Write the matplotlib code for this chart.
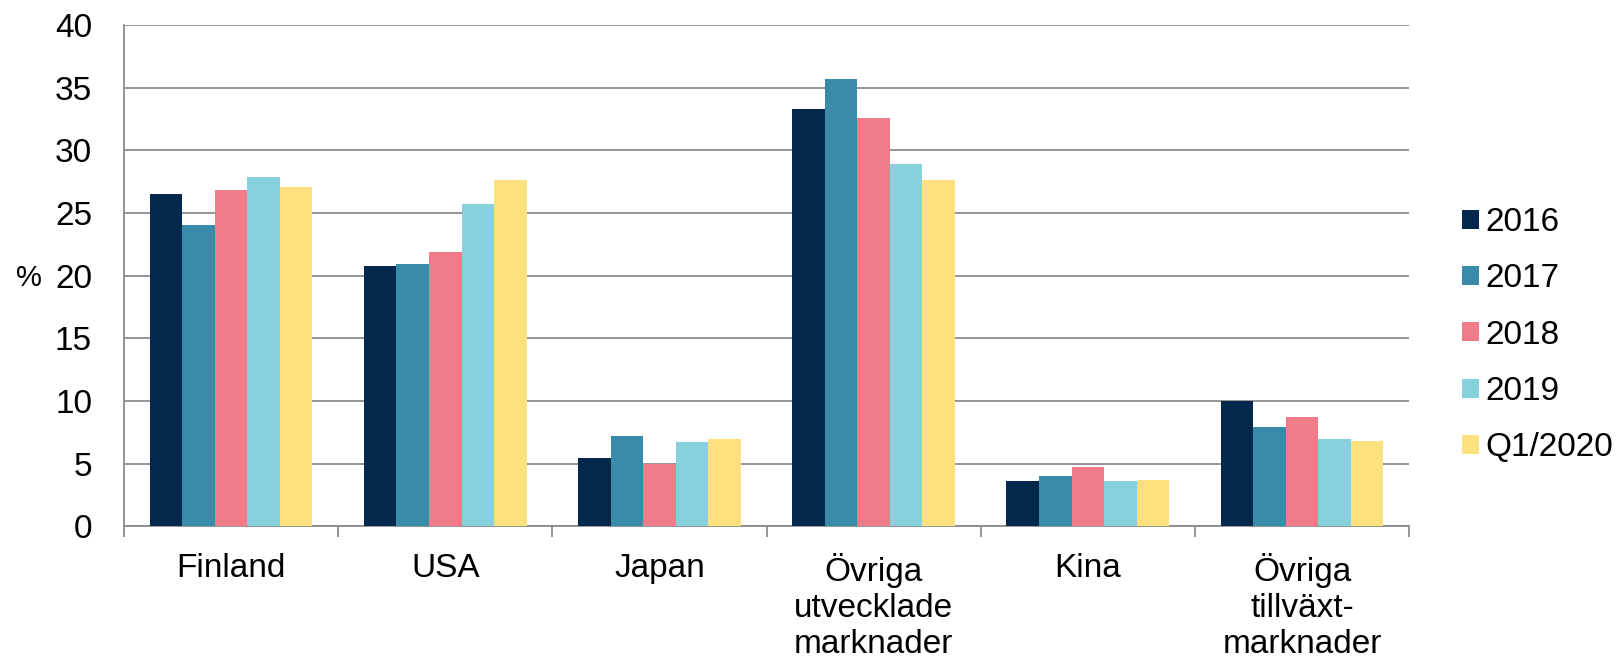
import matplotlib.pyplot as plt
import numpy as np

plt.rcParams['font.family'] = ['Liberation Sans', 'DejaVu Sans']

categories = ["Finland", "USA", "Japan", "Övriga\nutvecklade\nmarknader", "Kina", "Övriga\ntillväxt-\nmarknader"]
series = ["2016", "2017", "2018", "2019", "Q1/2020"]
values = {
    "2016":    [26.5, 20.8, 5.45, 33.3, 3.65, 10.0],
    "2017":    [24.0, 20.9, 7.2, 35.7, 4.0, 7.9],
    "2018":    [26.8, 21.9, 5.0, 32.6, 4.7, 8.7],
    "2019":    [27.9, 25.7, 6.7, 28.9, 3.6, 7.0],
    "Q1/2020": [27.1, 27.6, 7.0, 27.6, 3.7, 6.8],
}
colors = ["#02284b", "#3a8ba9", "#f27b8a", "#87d1df", "#fee07f"]

fig = plt.figure(figsize=(16.16, 6.57), dpi=100)
ax = fig.add_axes([0.0767, 0.199, 0.872 - 0.0767, 0.962 - 0.199])

x = np.arange(len(categories))
w = 0.152
for i, s in enumerate(series):
    ax.bar(x + (i - 2) * w, values[s], width=w, color=colors[i], label=s, zorder=3)

grid_c = "#8c8c8c"
ax.set_ylim(0, 40)
ax.set_yticks(range(0, 41, 5))
ax.yaxis.grid(True, color=grid_c, linewidth=1.3, zorder=0)
ax.set_xlim(-0.5, len(categories) - 0.5)
ax.set_xticks(x)
ax.set_xticklabels(categories, fontsize=24, linespacing=1.22, va="top")
ax.set_xticks(np.arange(-0.5, len(categories)), minor=True)
ax.tick_params(axis="x", which="major", length=0, pad=19)
ax.tick_params(axis="x", which="minor", length=8, width=1.3, color=grid_c, direction="out")
ax.tick_params(axis="y", length=0, pad=23, labelsize=24)

for side in ["top", "right"]:
    ax.spines[side].set_visible(False)
for side in ["left", "bottom"]:
    ax.spines[side].set_color(grid_c)
    ax.spines[side].set_linewidth(1.3)

fig.text(29 / 1616, 1 - 278 / 657, "%", fontsize=21, ha="center", va="center")

ax.legend(loc="center left", bbox_to_anchor=(1462 / 1616, 1 - 335 / 657),
          bbox_transform=fig.transFigure, frameon=False, fontsize=24,
          handlelength=0.5, handleheight=0.5, handletextpad=0.2, labelspacing=0.76,
          borderaxespad=0, borderpad=0)

fig.savefig("out.png", dpi=100)
